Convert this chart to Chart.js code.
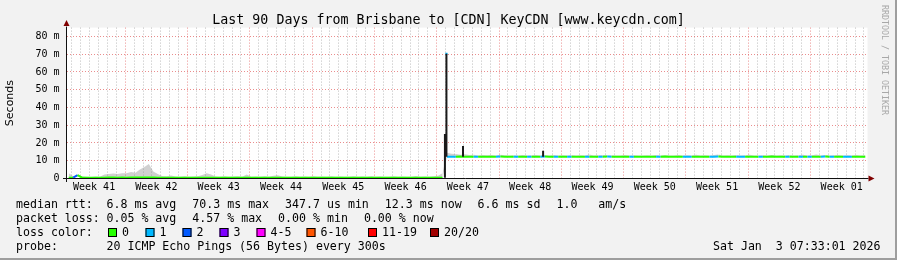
<!DOCTYPE html>
<html>
<head>
<meta charset="utf-8">
<script src="https://cdn.jsdelivr.net/npm/chart.js@4.4.0/dist/chart.umd.min.js"></script>
<style>
html, body { margin: 0; padding: 0; background: #f2f2f2; }
#wrap { width: 897px; height: 260px; }
</style>
</head>
<body>
<div id="wrap"><canvas id="rtt" width="897" height="260"></canvas></div>
<script>

var chartTitle = 'Last 90 Days from Brisbane to [CDN] KeyCDN [www.keycdn.com]';
var weekLabels = ['Week 41', 'Week 42', 'Week 43', 'Week 44', 'Week 45', 'Week 46', 'Week 47',
    'Week 48', 'Week 49', 'Week 50', 'Week 51', 'Week 52', 'Week 01'];
var totalDays = 90;
var firstWeekStart = 6.6;   // days from left edge to first week gridline
var sampleStep = 0.5;       // days per sample

// median rtt in ms, one value per half day
var median = [
    0.45, 0.45, 1.9, 0.45, 0.45, 0.45, 0.45, 0.45, 0.45, 0.5,
    0.5, 0.45, 0.5, 0.45, 0.5, 0.5, 0.55, 0.5, 0.55, 0.5,
    0.45, 0.45, 0.45, 0.45, 0.45, 0.45, 0.45, 0.45, 0.45, 0.45,
    0.45, 0.45, 0.45, 0.45, 0.45, 0.45, 0.45, 0.45, 0.45, 0.45,
    0.45, 0.45, 0.45, 0.45, 0.45, 0.45, 0.45, 0.45, 0.45, 0.45,
    0.45, 0.45, 0.45, 0.45, 0.45, 0.45, 0.45, 0.45, 0.45, 0.45,
    0.45, 0.45, 0.45, 0.45, 0.45, 0.45, 0.45, 0.45, 0.45, 0.45,
    0.45, 0.45, 0.45, 0.45, 0.45, 0.45, 0.45, 0.45, 0.45, 0.45,
    0.45, 0.45, 0.45, 0.45, 0.45, 12.3, 12.3, 12.3, 12.4, 12.3,
    12.3, 12.3, 12.2, 12.3, 12.3, 12.3, 12.3, 12.4, 12.3, 12.3,
    12.3, 12.3, 12.3, 12.2, 12.3, 12.3, 12.3, 12.4, 12.3, 12.3,
    12.3, 12.3, 12.3, 12.3, 12.2, 12.3, 12.3, 12.3, 12.3, 12.3,
    12.3, 12.4, 12.3, 12.3, 12.3, 12.3, 12.2, 12.3, 12.3, 12.3,
    12.3, 12.3, 12.3, 12.3, 12.4, 12.3, 12.3, 12.3, 12.2, 12.3,
    12.3, 12.3, 12.3, 12.3, 12.3, 12.3, 12.4, 12.3, 12.3, 12.3,
    12.3, 12.2, 12.3, 12.3, 12.3, 12.3, 12.3, 12.3, 12.4, 12.3,
    12.3, 12.3, 12.3, 12.2, 12.3, 12.3, 12.3, 12.3, 12.3, 12.3,
    12.4, 12.3, 12.3, 12.3, 12.3, 12.2, 12.3, 12.3, 12.3, 12.3
];

// lost pings (of 20) per sample
var lossCount = [
    0, 0, 2, 0, 0, 0, 0, 0, 0, 0,
    0, 0, 0, 0, 0, 0, 0, 0, 0, 0,
    0, 0, 0, 0, 0, 0, 0, 0, 0, 0,
    0, 0, 0, 0, 0, 0, 0, 0, 0, 0,
    0, 0, 0, 0, 0, 0, 0, 0, 0, 0,
    0, 0, 0, 0, 0, 0, 0, 0, 0, 0,
    0, 0, 0, 0, 0, 0, 0, 0, 0, 0,
    0, 0, 0, 0, 0, 0, 0, 0, 0, 0,
    0, 0, 0, 0, 0, 0, 1, 1, 0, 0,
    0, 0, 1, 0, 0, 0, 0, 1, 0, 0,
    0, 1, 0, 0, 1, 0, 0, 1, 0, 0,
    1, 0, 0, 1, 0, 0, 0, 1, 0, 0,
    1, 0, 1, 0, 0, 0, 0, 1, 0, 0,
    0, 0, 0, 1, 0, 0, 0, 0, 0, 1,
    1, 0, 0, 0, 0, 1, 1, 0, 0, 0,
    0, 1, 1, 0, 0, 0, 1, 0, 0, 0,
    0, 0, 1, 0, 0, 1, 0, 1, 0, 0,
    1, 0, 1, 0, 0, 1, 1, 0, 0, 0
];

// top of the smoke (slowest pings) in ms
var smokeTop = [
    3.0, 1.2, 1.5, 1.2, 1.0, 0.9, 1.1, 1.0, 2.2, 2.5,
    2.8, 2.6, 2.9, 3.0, 3.6, 3.2, 5.0, 6.5, 8.2, 4.0,
    2.6, 1.4, 1.2, 1.7, 1.1, 1.0, 1.2, 1.0, 1.1, 1.3,
    2.0, 2.9, 2.2, 1.1, 1.0, 1.2, 1.0, 1.1, 1.3, 1.0,
    2.3, 1.0, 1.1, 1.0, 1.2, 1.0, 1.6, 1.8, 1.1, 1.0,
    1.0, 1.2, 1.0, 1.1, 1.0, 1.3, 1.0, 1.1, 1.0, 1.2,
    1.0, 1.1, 1.0, 1.0, 1.2, 1.0, 1.1, 1.0, 1.3, 1.0,
    1.1, 1.0, 1.0, 1.2, 1.0, 1.1, 1.0, 1.0, 1.4, 1.0,
    1.1, 1.0, 1.2, 1.6, 3.0, 14.5, 14.0, 13.8, 13.4, 13.6,
    13.2, 13.4, 13.0, 13.3, 13.1, 13.2, 13.0, 13.4, 13.1, 13.0,
    13.1, 13.0, 13.2, 13.0, 13.1, 13.3, 13.0, 13.1, 13.0, 13.2,
    13.0, 13.1, 13.0, 13.3, 13.0, 13.1, 13.0, 13.5, 13.0, 13.1,
    13.2, 13.0, 13.1, 13.0, 13.0, 13.2, 13.0, 13.1, 13.0, 13.0,
    13.1, 13.0, 13.3, 13.0, 13.1, 13.0, 13.0, 13.2, 13.0, 13.1,
    13.0, 13.4, 13.0, 13.1, 13.0, 13.2, 13.5, 13.0, 13.1, 13.0,
    13.2, 13.0, 13.1, 13.4, 13.0, 13.0, 13.1, 13.0, 13.3, 13.0,
    13.1, 13.0, 13.2, 13.0, 13.1, 13.4, 13.0, 13.1, 13.5, 13.0,
    13.2, 13.0, 13.1, 13.3, 13.0, 13.1, 13.0, 13.2, 13.0, 13.1
];

// short dark smoke spikes
var spikeDay = [42.52, 42.69, 44.55, 53.55];
var spikeLow = [0.45, 12.3, 12.3, 12.3];
var spikeHigh = [25.0, 70.3, 18.3, 15.7];
var peakDay = 42.69;
var peakMs = 70.3;

var lossLabels = ['0', '1', '2', '3', '4-5', '6-10', '11-19', '20/20'];
var lossColors = ['#26ff00', '#00b8ff', '#0059ff', '#7e00ff', '#ff00ff', '#ff5500', '#ff0000', '#a10000'];
var rttStats = ['6.8 ms avg', '70.3 ms max', '347.7 us min', '12.3 ms now', '6.6 ms sd', '1.0   am/s'];
var lossStats = ['0.05 % avg', '4.57 % max', '0.00 % min', '0.00 % now'];
var probeText = '20 ICMP Echo Pings (56 Bytes) every 300s';
var stampText = 'Sat Jan  3 07:33:01 2026';

var GRID = 'rgba(143,143,143,0.6)';
var MGRID = 'rgba(222,80,80,0.65)';
var MONO = '"DejaVu Sans Mono", monospace';

function lossColor(n) {
    var idx = n <= 3 ? n : n <= 5 ? 4 : n <= 10 ? 5 : n <= 19 ? 6 : 7;
    return lossColors[idx];
}

var medianPoints = [], smokePoints = [];
for (var i = 0; i < median.length; i++) {
    var d = sampleStep * i + sampleStep / 2;
    medianPoints.push({x: d, y: median[i]});
    smokePoints.push({x: d, y: smokeTop[i]});
}
var spikePoints = [];
for (var j = 0; j < spikeDay.length; j++) {
    spikePoints.push({x: spikeDay[j], y: spikeLow[j]});
    spikePoints.push({x: spikeDay[j], y: spikeHigh[j]});
    spikePoints.push({x: spikeDay[j], y: null});
}

var decor = {
    id: 'decor',
    beforeDraw: function (chart) {
        var ctx = chart.ctx, a = chart.chartArea;
        ctx.save();
        ctx.fillStyle = '#f2f2f2';
        ctx.fillRect(0, 0, chart.width, chart.height);
        ctx.fillStyle = '#ffffff';
        ctx.fillRect(a.left, a.top, a.right - a.left, a.bottom - a.top);
        ctx.restore();
    },
    afterDraw: function (chart) {
        var ctx = chart.ctx, a = chart.chartArea;
        ctx.save();
        // axes with arrows
        ctx.strokeStyle = '#101010';
        ctx.lineWidth = 1;
        ctx.beginPath();
        ctx.moveTo(a.left - 3.5, a.bottom);
        ctx.lineTo(a.right + 1, a.bottom);
        ctx.moveTo(a.left, a.bottom + 3.5);
        ctx.lineTo(a.left, a.top - 1);
        ctx.stroke();
        ctx.fillStyle = '#800000';
        ctx.beginPath();
        ctx.moveTo(a.right + 1, a.bottom - 3);
        ctx.lineTo(a.right + 7, a.bottom);
        ctx.lineTo(a.right + 1, a.bottom + 3);
        ctx.closePath();
        ctx.fill();
        ctx.beginPath();
        ctx.moveTo(a.left - 3, a.top - 1.5);
        ctx.lineTo(a.left, a.top - 7.5);
        ctx.lineTo(a.left + 3, a.top - 1.5);
        ctx.closePath();
        ctx.fill();

        // title
        ctx.fillStyle = '#000';
        ctx.font = '13.3px ' + MONO;
        ctx.textAlign = 'center';
        ctx.textBaseline = 'alphabetic';
        ctx.fillText(chartTitle, 448.5, 24);

        // legend
        ctx.font = '11.6px ' + MONO;
        ctx.textAlign = 'left';
        ctx.fillText('median rtt:', 16, 207.5);
        var x = 106.5;
        rttStats.forEach(function (s) {
            ctx.fillText(s, x, 207.5);
            x += ctx.measureText(s).width + 16;
        });
        ctx.fillText('packet loss:', 16, 221.5);
        x = 106.5;
        lossStats.forEach(function (s) {
            ctx.fillText(s, x, 221.5);
            x += ctx.measureText(s).width + 16;
        });
        ctx.fillText('loss color:', 16, 235.5);
        var boxX = [108, 145.5, 182.5, 219.5, 256.5, 306.5, 368, 430];
        lossLabels.forEach(function (s, k) {
            ctx.fillStyle = lossColors[k];
            ctx.fillRect(boxX[k], 228, 9, 9);
            ctx.strokeStyle = '#000';
            ctx.strokeRect(boxX[k] + 0.5, 228.5, 8, 8);
            ctx.fillStyle = '#000';
            ctx.fillText(s, boxX[k] + 14, 235.5);
        });
        ctx.fillText('probe:', 16, 249.5);
        ctx.fillText(probeText, 106.5, 249.5);
        ctx.textAlign = 'right';
        ctx.fillText(stampText, 880.5, 249.5);

        // watermark
        ctx.save();
        ctx.translate(884, 5);
        ctx.rotate(Math.PI / 2);
        ctx.font = '8.3px ' + MONO;
        ctx.fillStyle = '#a8a8a8';
        ctx.textAlign = 'left';
        ctx.textBaseline = 'middle';
        ctx.fillText('RRDTOOL / TOBI OETIKER', 0, 0);
        ctx.restore();

        // frame shade
        ctx.fillStyle = '#9e9e9e';
        ctx.fillRect(0, chart.height - 2, chart.width, 2);
        ctx.fillRect(chart.width - 2, 0, 2, chart.height);
        ctx.restore();
    }
};

var ctx = document.getElementById('rtt').getContext('2d');
window.rttChart = new Chart(ctx, {
    type: 'line',
    data: {
        datasets: [{
            label: 'spikes',
            data: spikePoints,
            borderColor: '#1a1a1a',
            borderWidth: 2,
            pointRadius: 0,
            spanGaps: false,
            fill: false,
            order: 0
        }, {
            label: 'median rtt',
            data: medianPoints,
            borderWidth: 2,
            pointRadius: 0,
            fill: false,
            order: 1,
            segment: {
                borderColor: function (c) {
                    var a = median[c.p0DataIndex], b = median[c.p1DataIndex];
                    if (Math.abs(b - a) > 5) return 'rgba(0,0,0,0)';
                    return lossColor(lossCount[c.p1DataIndex]);
                }
            }
        }, {
            label: 'smoke',
            data: smokePoints,
            borderWidth: 0,
            borderColor: 'rgba(0,0,0,0)',
            backgroundColor: 'rgba(150,150,150,0.45)',
            pointRadius: 0,
            fill: 1,
            order: 2
        }, {
            label: 'peak',
            data: [{x: peakDay, y: peakMs}],
            showLine: false,
            pointStyle: 'rect',
            pointRadius: 1.5,
            pointBackgroundColor: lossColors[1],
            pointBorderWidth: 0,
            order: 0
        }]
    },
    options: {
        responsive: false,
        animation: false,
        layout: {padding: {left: 0, right: 29.5, top: 27.6, bottom: 0}},
        plugins: {legend: {display: false}, tooltip: {enabled: false}},
        scales: {
            x: {
                type: 'linear',
                min: 0,
                max: totalDays,
                border: {display: false, dash: [1, 2]},
                afterFit: function (s) { s.height = 81.5; },
                afterBuildTicks: function (axis) {
                    var t = [];
                    for (var k = 0; k < totalDays; k++) {
                        t.push({value: firstWeekStart - 6 + k, kind: (k - 6) % 7 === 0 ? 'major' : 'day'});
                    }
                    weekLabels.forEach(function (w, n) {
                        t.push({value: firstWeekStart - 3.5 + 7 * n, kind: 'label', text: w});
                    });
                    t.sort(function (p, q) { return p.value - q.value; });
                    axis.ticks = t;
                },
                grid: {
                    drawTicks: false,
                    color: function (c) {
                        var k = c.tick && c.tick.kind;
                        return k === 'major' ? MGRID : k === 'day' ? GRID : 'rgba(0,0,0,0)';
                    }
                },
                ticks: {
                    autoSkip: false,
                    maxRotation: 0,
                    padding: 3,
                    color: '#000',
                    font: {family: MONO, size: 10},
                    callback: function (v, idx, ticks) {
                        return ticks[idx].kind === 'label' ? ticks[idx].text : '';
                    }
                }
            },
            y: {
                min: 0,
                max: 85,
                border: {display: false, dash: [1, 2]},
                afterFit: function (s) { s.width = 66.5; },
                title: {
                    display: true,
                    text: 'Seconds',
                    color: '#000',
                    font: {family: '"DejaVu Sans", sans-serif', size: 11},
                    padding: {top: 4, bottom: 0}
                },
                grid: {
                    drawTicks: false,
                    color: function (c) {
                        return c.tick.value % 10 === 0 ? MGRID : GRID;
                    }
                },
                ticks: {
                    stepSize: 5,
                    padding: 7,
                    color: '#000',
                    font: {family: MONO, size: 10},
                    callback: function (v) {
                        if (v % 10 !== 0) return '';
                        return v === 0 ? '0' : v + ' m';
                    }
                }
            }
        }
    },
    plugins: [decor]
});
</script>
</body>
</html>
